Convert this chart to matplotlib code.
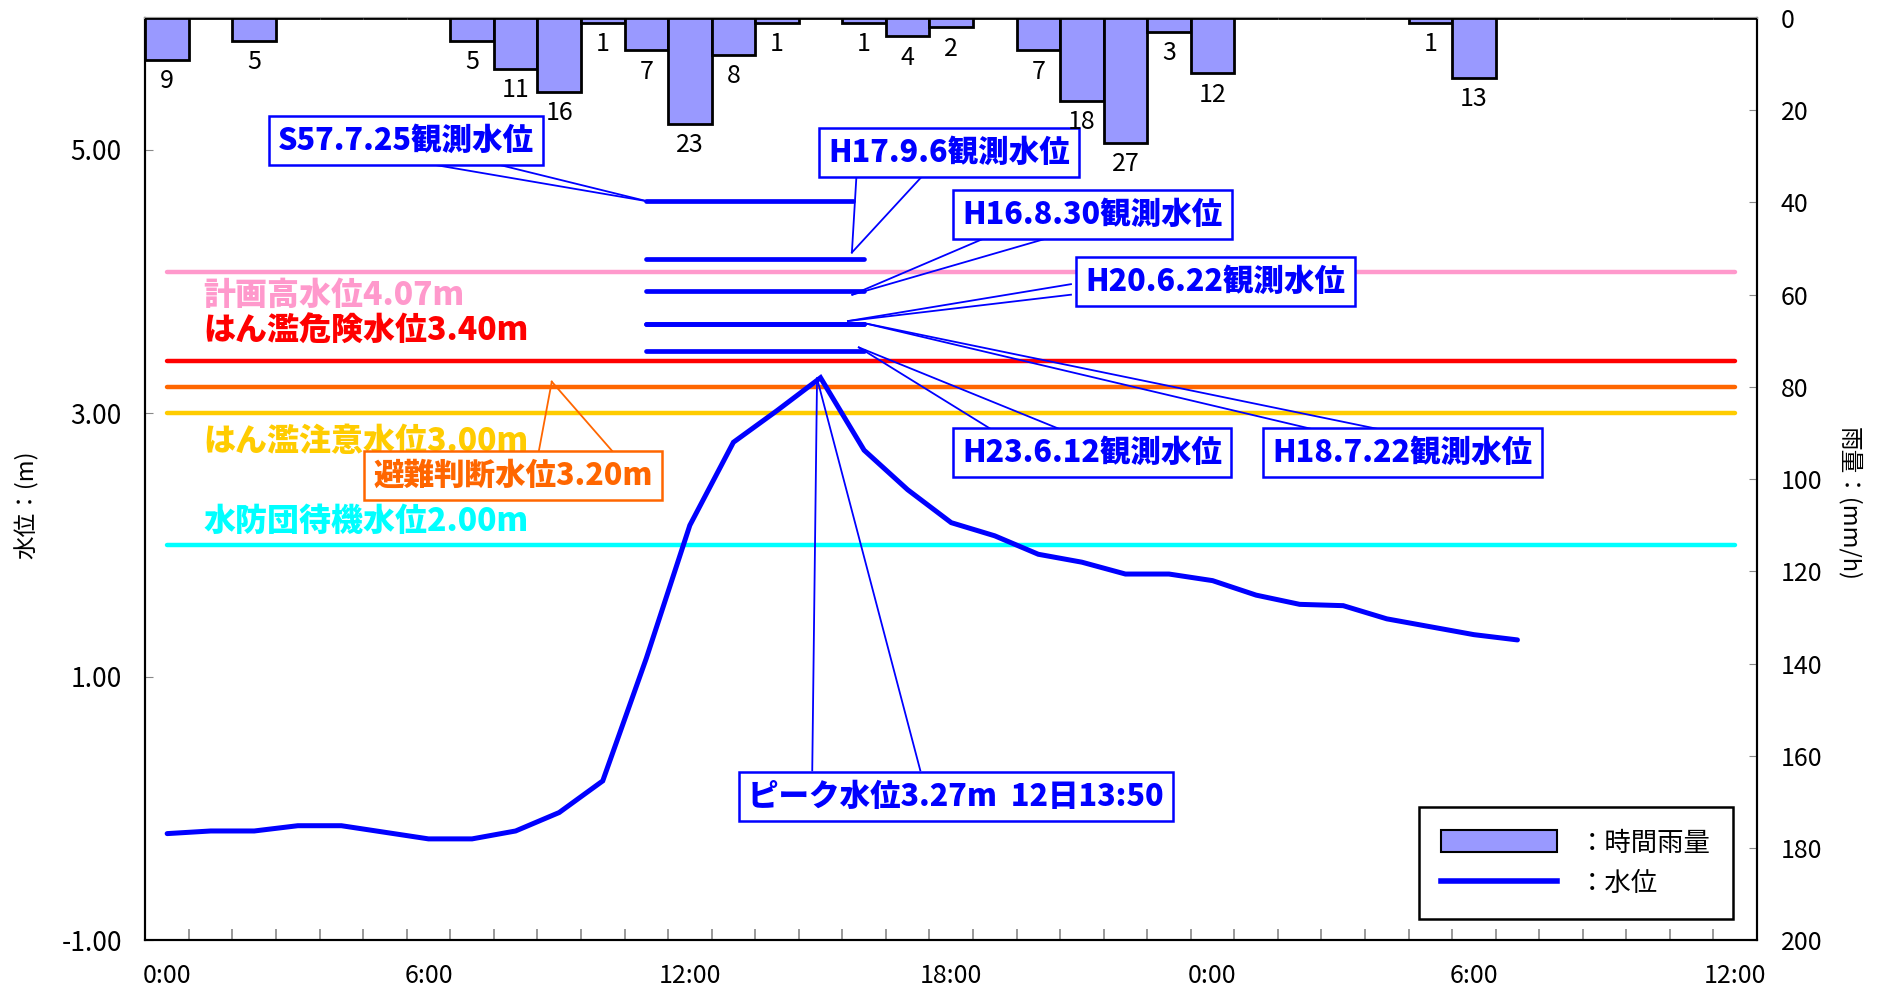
import matplotlib
matplotlib.use('Agg')
import matplotlib.pyplot as plt
from matplotlib.patches import Rectangle
from matplotlib.lines import Line2D
import numpy as np

plt.rcParams['font.family'] = ['Noto Sans CJK JP', 'DejaVu Sans']

# hourly rainfall (mm/h), one value per hour from 0:00 to next day 12:00
hours = np.arange(37)
rain = [9, 0, 5, 0, 0, 0, 0, 5, 11, 16,
        1, 7, 23, 8, 1, 0, 1, 4, 2, 0,
        7, 18, 27, 3, 12, 0, 0, 0, 0, 1,
        13, 0, 0, 0, 0, 0, 0]

# water level (m), hourly up to 7:00 of day two
level = [-0.19, -0.17, -0.17, -0.13, -0.13, -0.18, -0.23, -0.23, -0.17, -0.03,
         0.21, 1.14, 2.15, 2.78, 3.02, 3.27, 2.72, 2.42, 2.17, 2.07,
         1.93, 1.87, 1.78, 1.78, 1.73, 1.62, 1.55, 1.54, 1.44, 1.38,
         1.32, 1.28]

xtick_pos = [0, 6, 12, 18, 24, 30, 36]
xtick_labels = ['0:00', '6:00', '12:00', '18:00', '0:00', '6:00', '12:00']

# reference water levels
ref_names = ['計画高水位4.07m', 'はん濫危険水位3.40m', '避難判断水位3.20m',
             'はん濫注意水位3.00m', '水防団待機水位2.00m']
ref_values = [4.07, 3.40, 3.20, 3.00, 2.00]
ref_colors = ['#FF99CC', '#FF0000', '#FF6600', '#FFCC00', '#00FFFF']

# past observed levels (short segments)
hist_names = ['S57.7.25観測水位', 'H17.9.6観測水位', 'H16.8.30観測水位',
              'H20.6.22観測水位', 'H18.7.22観測水位', 'H23.6.12観測水位']
hist_values = [4.61, 4.17, 3.93, 3.68, 3.68, 3.47]
hist_start = [11, 11, 11, 11, 11, 11]
hist_end = [15.75, 16, 16, 16, 16, 16]

peak_text = 'ピーク水位3.27m  12日13:50'

bar_color = '#9999FF'
line_color = '#0000FF'

fig = plt.figure(figsize=(18.83, 9.89), dpi=100)
ax = fig.add_axes([0.0772, 0.0492, 0.8559, 0.9326])
ax2 = ax.twinx()

# rainfall bars (right axis, inverted)
ax2.bar(hours, rain, width=1.0, color=bar_color, edgecolor='black', linewidth=2, zorder=3)
for h, v in zip(hours, rain):
    if v > 0:
        ax2.annotate(str(v), (h, v), xytext=(0, -6), textcoords='offset points',
                     ha='center', va='top', fontsize=18, color='black')
ax2.set_ylim(200, 0)
ax2.set_yticks(np.arange(0, 201, 20))

# reference lines
for name, v, c in zip(ref_names, ref_values, ref_colors):
    ax.plot([0, 36], [v, v], color=c, lw=3.2, solid_capstyle='round', zorder=2)

# historical level segments
for v, s, e in zip(hist_values, hist_start, hist_end):
    ax.plot([s, e], [v, v], color=line_color, lw=3.4, solid_capstyle='round', zorder=3)

# water level
ax.plot(np.arange(len(level)), level, color=line_color, lw=3.6,
        solid_capstyle='round', solid_joinstyle='miter', zorder=4)

# plain labels for reference lines
lab_x = 0.83
lab_fs = 23
ax.text(lab_x, 3.895, ref_names[0], color=ref_colors[0], fontsize=lab_fs, fontweight='heavy', va='center', zorder=5)
ax.text(lab_x, 3.63, ref_names[1], color=ref_colors[1], fontsize=lab_fs, fontweight='heavy', va='center', zorder=5)
ax.text(lab_x, 2.79, ref_names[3], color=ref_colors[3], fontsize=lab_fs, fontweight='heavy', va='center', zorder=5)
ax.text(lab_x, 2.18, ref_names[4], color=ref_colors[4], fontsize=lab_fs, fontweight='heavy', va='center', zorder=5)


def callout(text, pos, tip, base, color):
    for b in base:
        ax.plot([b[0], tip[0]], [b[1], tip[1]], color=color, lw=1.3, zorder=6)
    ax.text(pos[0], pos[1], text, color=color, fontsize=22, fontweight='heavy',
            ha='center', va='center', zorder=7,
            bbox=dict(boxstyle='square,pad=0.3', fc='white', ec=color, lw=1.8))


callout(hist_names[0], (5.48, 5.07), (11.01, 4.61), [(6.06, 4.89), (7.57, 4.89)], line_color)
callout(hist_names[1], (17.95, 4.98), (15.72, 4.22), [(15.83, 4.83), (17.42, 4.83)], line_color)
callout(hist_names[2], (21.24, 4.51), (15.73, 3.90), [(19.06, 4.37), (20.64, 4.37)], line_color)
callout(hist_names[3], (24.07, 4.00), (15.63, 3.70), [(20.75, 3.98), (20.75, 3.90)], line_color)
callout(hist_names[5], (21.24, 2.70), (15.88, 3.50), [(19.01, 2.86), (20.64, 2.86)], line_color)
callout(hist_names[4], (28.36, 2.70), (15.99, 3.685), [(26.29, 2.88), (27.81, 2.88)], line_color)
callout(peak_text, (18.11, 0.09), (14.92, 3.265), [(14.81, 0.29), (17.29, 0.29)], line_color)
callout(ref_names[2], (7.94, 2.53), (8.83, 3.24), [(8.52, 2.69), (10.28, 2.69)], ref_colors[2])

# axes
ax.set_xlim(-0.5, 36.5)
ax.set_ylim(-1, 6)
ax.set_yticks([-1, 1, 3, 5])
ax.set_yticklabels(['%.2f' % t for t in [-1, 1, 3, 5]])
ax.set_xticks(xtick_pos)
ax.set_xticklabels(xtick_labels)
ax.set_xticks(np.arange(0.5, 36, 1), minor=True)
ax.tick_params(axis='x', which='major', length=0, pad=16, labelsize=18)
ax.tick_params(axis='x', which='minor', direction='in', length=8, color='#888888', width=1.2)
ax.tick_params(axis='y', direction='in', length=6, color='#888888', pad=17, labelsize=19)
ax2.tick_params(axis='y', direction='in', length=6, color='#888888', pad=17, labelsize=18)

for a in (ax, ax2):
    for side in ('left', 'right', 'bottom'):
        a.spines[side].set_color('black')
        a.spines[side].set_linewidth(1.5)
    a.spines['top'].set_color('#999999')
    a.spines['top'].set_linewidth(1.5)

fig.text(0.014, 0.49, '水位：(m)', rotation=90, ha='center', va='center', fontsize=17)
fig.text(0.982, 0.49, '雨量：(mm/h)', rotation=-90, ha='center', va='center', fontsize=17)

handles = [Rectangle((0, 0), 1, 1, facecolor=bar_color, edgecolor='black', linewidth=1.5),
           Line2D([], [], color=line_color, lw=4)]
leg = ax2.legend(handles, ['：時間雨量', '：水位'], loc='lower right',
                 bbox_to_anchor=(0.985, 0.023), borderaxespad=0, fontsize=19,
                 handlelength=4.4, handleheight=0.9, handletextpad=0.8,
                 labelspacing=0.5, borderpad=0.85, fancybox=False,
                 edgecolor='black', framealpha=1)
leg.get_frame().set_linewidth(1.8)
leg.set_zorder(10)

fig.savefig('out.png', dpi=100)
